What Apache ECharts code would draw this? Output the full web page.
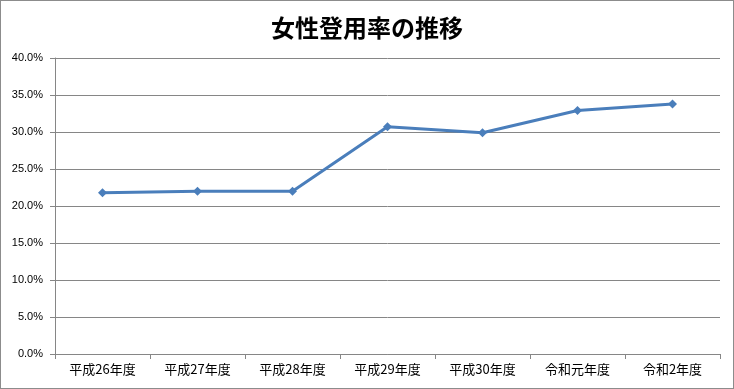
<!DOCTYPE html>
<html><head><meta charset="utf-8">
<script src="https://cdn.jsdelivr.net/npm/echarts@6/dist/echarts.min.js"></script>
<style>html,body{margin:0;padding:0;background:#fff}#c{width:734px;height:389px;box-sizing:border-box;border:1px solid #8c8c8c}</style>
</head><body><div id="c"></div>
<script>
const title = '女性登用率の推移';
const categories = ['平成26年度','平成27年度','平成28年度','平成29年度','平成30年度','令和元年度','令和2年度'];
const values = [21.8, 22.0, 22.0, 30.7, 29.9, 32.9, 33.8];
const yMin = 0, yMax = 40, yStep = 5;

const chart = echarts.init(document.getElementById('c'), null, {renderer:'canvas'});
const font = '"Noto Sans CJK JP", sans-serif';
chart.setOption({
  animation:false,
  title:{text:title,left:'center',top:10,textStyle:{fontFamily:font,fontSize:24,fontWeight:'bold',color:'#000'}},
  grid:{left:54,right:13,top:57,bottom:34,containLabel:false},
  xAxis:{type:'category',data:categories,boundaryGap:true,
    axisLine:{lineStyle:{color:'#868686'}},
    axisTick:{show:true,alignWithLabel:false,lineStyle:{color:'#868686'},length:5},
    axisLabel:{fontFamily:font,fontSize:13,color:'#000',margin:9}},
  yAxis:{type:'value',min:yMin,max:yMax,interval:yStep,
    axisLine:{show:true,lineStyle:{color:'#868686'}},
    axisTick:{show:true,lineStyle:{color:'#868686'},length:5},
    splitLine:{lineStyle:{color:'#868686'}},
    axisLabel:{fontFamily:'"Liberation Sans", Arial, sans-serif',fontSize:11,color:'#000',margin:12,formatter:v=>v.toFixed(1)+'%'}},
  series:[{type:'line',data:values,symbol:'diamond',symbolSize:9,
    lineStyle:{color:'#4a7ebb',width:3},itemStyle:{color:'#4a7ebb'}}]
});
</script></body></html>
